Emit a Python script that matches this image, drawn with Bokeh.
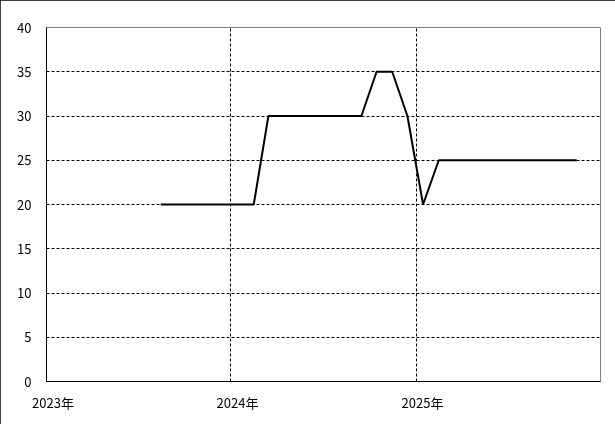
import datetime as dt
from bokeh.plotting import figure
from bokeh.models import FixedTicker, DatetimeTickFormatter, Range1d, InlineStyleSheet
from bokeh.embed import file_html
from bokeh.resources import INLINE

# Data: monthly values (mid-month)
months = ["2023-08", "2023-09", "2023-10", "2023-11", "2023-12", "2024-01", "2024-02",
          "2024-03", "2024-04", "2024-05", "2024-06", "2024-07", "2024-08", "2024-09",
          "2024-10", "2024-11", "2024-12", "2025-01",
          "2025-02", "2025-03", "2025-04", "2025-05", "2025-06", "2025-07", "2025-08",
          "2025-09", "2025-10", "2025-11"]
values = [20, 20, 20, 20, 20, 20, 20,
          30, 30, 30, 30, 30, 30, 30,
          35, 35, 30, 20,
          25, 25, 25, 25, 25, 25, 25,
          25, 25, 25]
year_ticks = [2023, 2024, 2025]
y_ticks = [0, 5, 10, 15, 20, 25, 30, 35, 40]

dates = [dt.datetime.strptime(m + "-15", "%Y-%m-%d") for m in months]

def ms(d):
    return (d - dt.datetime(1970, 1, 1)).total_seconds() * 1000.0

FONT = "Noto Sans CJK JP"

p = figure(width=615, height=424, x_axis_type="datetime", output_backend="svg",
           toolbar_location=None,
           x_range=Range1d(dt.datetime(2023, 1, 1), dt.datetime(2026, 1, 1)),
           y_range=Range1d(0, 40),
           min_border_left=46, min_border_right=15, min_border_top=27, min_border_bottom=43)
p.stylesheets = [InlineStyleSheet(css=":host { position: fixed !important; left: 0px !important; top: 0px !important; outline: 1px solid black; outline-offset: -1px; }")]

p.line(dates, values, line_color="black", line_width=2)

p.outline_line_color = "#808080"
p.outline_line_width = 1

xt = [ms(dt.datetime(y, 1, 1)) for y in year_ticks]
p.xaxis.ticker = FixedTicker(ticks=xt)
p.xaxis.formatter = DatetimeTickFormatter(years="\u3000%Y年", months="\u3000%Y年", days="\u3000%Y年")
p.yaxis.ticker = FixedTicker(ticks=y_ticks)

for ax in (p.xaxis[0], p.yaxis[0]):
    ax.axis_line_color = "black"
    ax.axis_line_width = 1
    ax.major_tick_line_color = None
    ax.minor_tick_line_color = None
    ax.major_label_text_font = FONT
    ax.major_label_text_font_size = "13px"
    ax.major_label_text_color = "black"
p.xaxis.major_label_standoff = 5
p.yaxis.major_label_standoff = 9

p.xgrid.ticker = FixedTicker(ticks=xt[1:])
p.ygrid.ticker = FixedTicker(ticks=y_ticks[1:-1])
for g in (p.xgrid[0], p.ygrid[0]):
    g.grid_line_color = "black"
    g.grid_line_dash = "3 2"
    g.grid_line_width = 1

p.background_fill_color = "white"
p.border_fill_color = "white"

open("out.html", "w").write(file_html(p, INLINE))
